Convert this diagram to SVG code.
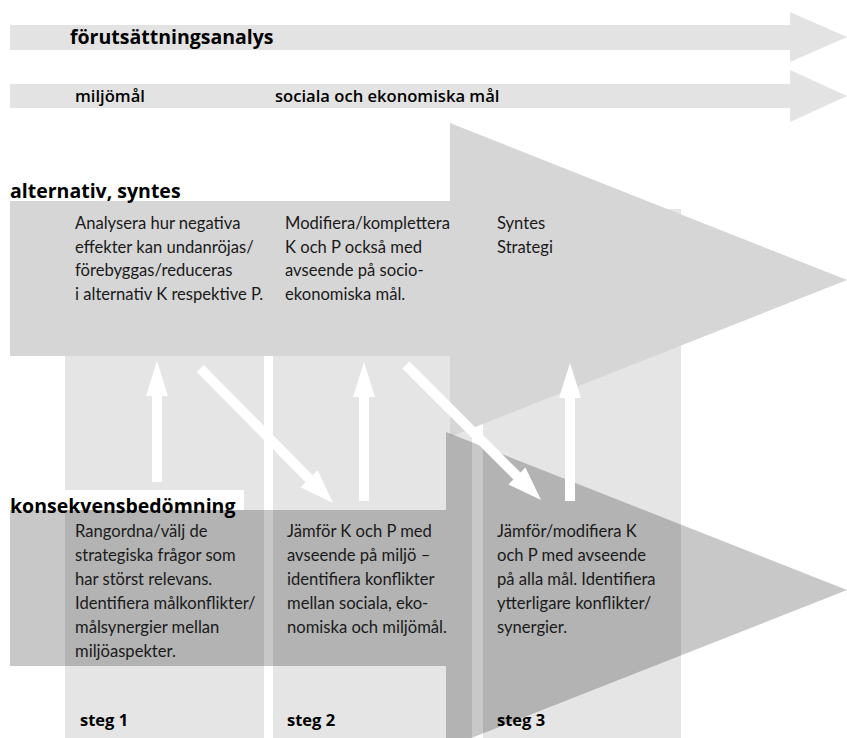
<svg xmlns="http://www.w3.org/2000/svg" width="847" height="738" viewBox="0 0 847 738">
<style>
.band{fill:#e3e3e3}
.col{fill:#e5e5e5}
.top{fill:#d6d6d6}
.low{fill:#000;fill-opacity:0.215}
.wa{fill:#ffffff}
.h{font-family:"Open Sans","Liberation Sans",sans-serif;font-weight:700;font-size:19.5px;fill:#000}
.s{font-family:"Open Sans","Liberation Sans",sans-serif;font-weight:600;font-size:16.6px;fill:#000}
.t{font-family:Lato,"Liberation Sans",sans-serif;font-size:16.6px;fill:#1a1a1a}
.st{font-family:"Open Sans","Liberation Sans",sans-serif;font-weight:700;font-size:16.5px;fill:#000}
</style>
<rect width="847" height="738" fill="#fff"/>
<g id="band-forutsattningsanalys">
<polygon class="band" points="10,25 790,25 790,12 847,37 790,62 790,50 10,50"/>
<text class="h" x="70" y="44">förutsättningsanalys</text>
</g>
<g id="band-mal">
<polygon class="band" points="10,84 790,84 790,70 847,96 790,122 790,108 10,108"/>
<text class="s" x="75" y="102">miljömål</text>
<text class="s" x="275" y="102">sociala och ekonomiska mål</text>
</g>
<g id="columns">
<rect id="col1" class="col" x="65" y="209" width="199" height="529"/>
<rect id="col2" class="col" x="273" y="209" width="199" height="529"/>
<rect id="col3" class="col" x="483" y="209" width="198" height="529"/>
</g>
<g id="alternativ-syntes">
<polygon class="top" points="10,201 450,201 450,123 847,280 450,437 450,356 10,356"/>
<text class="h" x="10" y="198">alternativ, syntes</text>
</g>
<g id="konsekvensbedomning">
<rect x="8" y="490" width="236" height="20" fill="#fff"/>
<polygon class="low" points="10,510 446,510 446,432 847,590 446,748 446,666 10,666"/>
<text class="h" x="10" y="513">konsekvensbedömning</text>
</g>
<g id="text-alt-1">
<text class="t" x="75" y="229">Analysera hur negativa</text>
<text class="t" x="75" y="252.5">effekter kan undanröjas/</text>
<text class="t" x="75" y="276">förebyggas/reduceras</text>
<text class="t" x="75" y="299.5">i alternativ K respektive P.</text>
</g>
<g id="text-alt-2">
<text class="t" x="285" y="229">Modifiera/komplettera</text>
<text class="t" x="285" y="252.5">K och P också med</text>
<text class="t" x="285" y="276">avseende på socio-</text>
<text class="t" x="285" y="299.5">ekonomiska mål.</text>
</g>
<g id="text-alt-3">
<text class="t" x="497" y="229">Syntes</text>
<text class="t" x="497" y="252.5">Strategi</text>
</g>
<g id="text-kons-1">
<text class="t" x="75" y="537">Rangordna/välj de</text>
<text class="t" x="75" y="561">strategiska frågor som</text>
<text class="t" x="75" y="585">har störst relevans.</text>
<text class="t" x="75" y="609">Identifiera målkonflikter/</text>
<text class="t" x="75" y="633">målsynergier mellan</text>
<text class="t" x="75" y="657">miljöaspekter.</text>
</g>
<g id="text-kons-2">
<text class="t" x="287" y="537">Jämför K och P med</text>
<text class="t" x="287" y="561">avseende på miljö –</text>
<text class="t" x="287" y="585">identifiera konflikter</text>
<text class="t" x="287" y="609">mellan sociala, eko-</text>
<text class="t" x="287" y="633">nomiska och miljömål.</text>
</g>
<g id="text-kons-3">
<text class="t" x="497" y="537">Jämför/modifiera K</text>
<text class="t" x="497" y="561">och P med avseende</text>
<text class="t" x="497" y="585">på alla mål. Identifiera</text>
<text class="t" x="497" y="609">ytterligare konflikter/</text>
<text class="t" x="497" y="633">synergier.</text>
</g>
<g id="steg-labels">
<text class="st" x="80" y="726">steg 1</text>
<text class="st" x="287" y="726">steg 2</text>
<text class="st" x="497" y="726">steg 3</text>
</g>
<g id="connectors">
<polygon class="wa" points="157,361 168,396 162,396 162,482 152,482 152,396 146,396"/>
<polygon class="wa" points="364,362 375,397 369,397 369,501 359,501 359,397 353,397"/>
<polygon class="wa" points="570,363 581,398 575,398 575,501 565,501 565,398 559,398"/>
<polygon class="wa" points="-189,-5 -34,-5 -34,-12 0,0 -34,12 -34,5 -189,5" transform="translate(333,503) rotate(45.4)"/>
<polygon class="wa" points="-191,-5 -34,-5 -34,-12 0,0 -34,12 -34,5 -191,5" transform="translate(541,500) rotate(45)"/>
</g>
</svg>
